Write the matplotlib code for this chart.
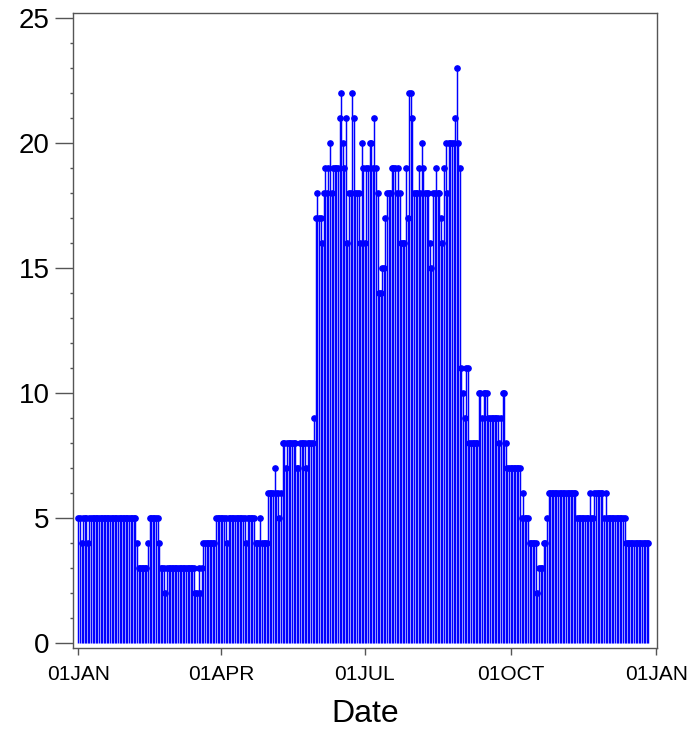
import matplotlib
matplotlib.use('Agg')
import matplotlib.pyplot as plt
from matplotlib.ticker import MultipleLocator
import pandas as pd

plt.rcParams['font.family'] = ['Liberation Sans', 'DejaVu Sans']

# daily counts
jan = [5,5,4,5,5,5,4,5,5,5,5,5,5,5,5,5,5,5,5,5,5,5,5,5,5,5,5,5,5,5,5]
feb = [5,5,5,5,5,5,4,3,3,3,3,3,3,4,5,5,5,5,5,5,4,3,3,3,2,3,3,3]
mar = [3,3,3,3,3,3,3,3,3,3,3,3,3,3,3,2,2,3,2,3,4,4,4,4,4,4,4,4,5,5,5]
apr = [5,5,5,5,4,5,5,5,5,5,5,5,5,5,5,5,4,5,5,5,5,5,4,4,4,5,4,4,4,4]
may = [6,6,6,6,7,6,6,5,6,8,8,7,8,8,8,8,8,8,7,7,8,8,8,8,7,8,8,8,8,9,17]
jun = [18,17,17,16,18,19,18,19,20,18,19,19,19,19,21,22,20,19,21,16,
       18,18,22,21,18,18,18,16,20,19]
jul = [16,19,19,20,20,19,21,19,18,14,14,15,15,17,18,18,18,19,19,19,
       18,19,18,16,16,16,19,17,22,22,21]
aug = [18,18,18,19,18,20,19,18,18,18,16,15,18,18,19,18,18,17,16,19,
       20,18,20,20,20,20,21,23,20,19,11]
sep = [10,9,11,11,8,8,8,8,8,8,10,10,9,10,10,10,9,9,9,9,9,9,9,8,9,10,10,8,7,7]
oct_ = [7,7,7,7,7,7,7,5,6,5,5,5,4,4,4,4,4,2,3,3,3,4,4,5,6,6,6,6,6,6,6]
nov = [6,6,6,6,6,6,6,6,6,6,6,5,5,5,5,5,5,5,5,6,5,5,6,6,6,6,6,6,5,6]
dec = [5,5,5,5,5,5,5,5,5,5,5,5,4,4,4,4,4,4,4,4,4,4,4,4,4,4,4]

counts = jan + feb + mar + apr + may + jun + jul + aug + sep + oct_ + nov + dec
dates = pd.date_range('2001-01-01', periods=len(counts), freq='D')

tick_dates = pd.to_datetime(['2001-01-01', '2001-04-01', '2001-07-01',
                             '2001-10-01', '2002-01-01'])
tick_labels = ['01JAN', '01APR', '01JUL', '01OCT', '01JAN']

fig = plt.figure(figsize=(6.88, 7.31), dpi=100)
ax = fig.add_axes([0.1065, 0.1131, 0.848, 0.8687])

ax.vlines(dates, 0, counts, color='#0000ff', lw=1.05)
ax.plot(dates, counts, 'o', color='#0000ff', ms=3.8, mec='#0000ff')

ax.set_xlim(pd.Timestamp('2001-01-01') - pd.Timedelta(days=3.2),
            pd.Timestamp('2001-01-01') + pd.Timedelta(days=365.3))
ax.set_ylim(-0.2, 25.2)

ax.set_xticks(tick_dates)
ax.set_xticklabels(tick_labels)
ax.set_yticks(range(0, 26, 5))
ax.yaxis.set_minor_locator(MultipleLocator(1))

ax.tick_params(axis='y', which='major', length=13, width=1, color='#555555',
               labelsize=20, pad=4)
ax.tick_params(axis='y', which='minor', length=2, width=1, color='#555555')
ax.tick_params(axis='x', which='major', length=5, width=1, color='#555555',
               labelsize=15, pad=7)

for s in ax.spines.values():
    s.set_color('#555555')
    s.set_linewidth(1)

ax.set_xlabel('Date', fontsize=23, labelpad=11)

fig.savefig('out.png', dpi=100)
